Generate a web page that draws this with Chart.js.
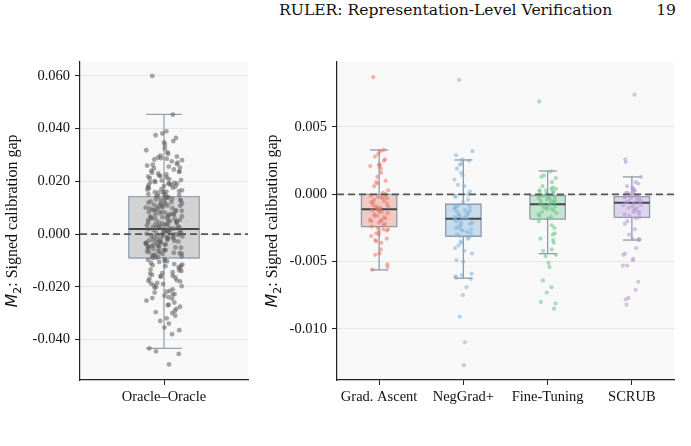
<!DOCTYPE html>
<html>
<head>
<meta charset="utf-8">
<script src="https://cdn.jsdelivr.net/npm/chart.js@4.4.1/dist/chart.umd.min.js"></script>
<style>
  body { margin: 0; width: 691px; height: 446px; background: #fff; position: relative; overflow: hidden; }
  #hdr { position: absolute; left: 279px; top: 1px; font: 15.6px "DejaVu Serif", serif; color: #111; white-space: nowrap; }
  #pg { position: absolute; right: 15px; top: 1px; font: 15.6px "DejaVu Serif", serif; color: #111; }
  #c1 { position: absolute; left: 0; top: 0; }
  #c2 { position: absolute; left: 260px; top: 0; }
</style>
</head>
<body>
<div id="hdr">RULER: Representation-Level Verification</div>
<div id="pg">19</div>
<canvas id="c1" width="260" height="446"></canvas>
<canvas id="c2" width="431" height="446"></canvas>
<script>
// ---- data ----
const oracleCategories = ['Oracle–Oracle'];
const oracleQ1 = [-0.0091];
const oracleMedian = [0.0019];
const oracleQ3 = [0.0142];
const oracleWhiskerLow = [-0.0434];
const oracleWhiskerHigh = [0.0454];
const oracleTicks = [0.06, 0.04, 0.02, 0, -0.02, -0.04];

// per-run gaps, in units of 1e-3
const oracleGap = [
  60.0, 45.3, 39.0, 38.2, 37.5, 36.5, 35.3, 34.8, 33.9, 32.5, 31.8, 31.0, 30.5, 29.8, 29.4, 29.0,
  28.8, 28.3, 28.0, 27.6, 27.1, 26.5, 26.0, 25.6, 25.2, 24.9, 24.5, 24.0, 23.7, 23.3, 23.0, 22.6,
  22.2, 22.0, 21.5, 21.2, 20.8, 20.5, 20.1, 19.8, 19.4, 19.1, 18.9, 18.5, 18.2, 18.0, 17.6, 17.3,
  17.0, 16.6, 16.3, 16.0, 15.7, 15.4, 15.1, 14.8, 14.5, 14.3, 14.0, 13.8, 13.5, 13.2, 13.0, 12.7,
  12.4, 12.1, 11.9, 11.6, 11.3, 11.0, 10.8, 10.5, 10.2, 10.0, 9.8, 9.5, 9.3, 9.0, 8.8, 8.6, 8.3,
  8.1, 7.9, 7.6, 7.4, 7.1, 6.9, 6.6, 6.4, 6.1, 5.9, 5.6, 5.4, 5.2, 4.9, 4.7, 4.5, 4.2, 4.0, 3.8,
  3.6, 3.3, 3.1, 2.9, 2.7, 2.5, 2.3, 2.1, 1.9, 1.7, 1.5, 1.3, 1.1, 0.9, 0.7, 0.5, 0.3, 0.1, -0.1,
  -0.3, -0.5, -0.7, -0.9, -1.1, -1.3, -1.5, -1.7, -1.9, -2.1, -2.3, -2.5, -2.7, -2.9, -3.1, -3.3,
  -3.5, -3.7, -3.9, -4.1, -4.3, -4.5, -4.7, -5.0, -5.2, -5.5, -5.7, -6.0, -6.2, -6.5, -6.8, -7.0,
  -7.3, -7.6, -7.9, -8.2, -8.5, -8.8, -9.1, -9.5, -9.8, -10.2, -10.6, -11.0, -11.4, -11.8, -12.2,
  -12.6, -13.0, -13.5, -14.0, -14.5, -15.0, -15.5, -16.0, -16.5, -17.0, -17.5, -18.0, -18.5, -19.0,
  -19.5, -20.0, -20.5, -21.0, -21.6, -22.2, -22.8, -23.4, -24.0, -24.6, -25.3, -26.0, -26.8, -27.6,
  -28.4, -29.2, -30.0, -31.0, -32.0, -33.0, -34.0, -35.5, -36.5, -38.0, -43.4, -44.5, -45.5, -49.5,
  23.6, 21.8, 19.6, 17.8, 16.9, 15.9, 14.9, 13.9, 12.9, 11.7, 10.7, 9.7, 8.7, 7.7, 6.7, 5.8, 4.8,
  3.9, 2.8, 1.8, 0.8, -0.2, -1.2, -2.2, -3.2, -4.2, -5.1, -6.1, -7.1, -8.0, -8.9, -10.4, -12.0,
  -13.8, -15.8, -17.8, -19.8, -21.9, -24.3, 13.4, 11.2, 9.1, 7.2, 5.3, 3.4, 1.6, 0.0, -1.6, -3.4,
  -5.3, -7.4, 28.6, 26.3, 20.3, 18.7, -16.2, -18.8, -23.0, -27.0, -29.6, 12.2, 10.4, 8.4, 6.3,
  4.4, 2.4, 0.4, -0.6, -2.6, -4.6, -6.6, 16.1, 19.3, -11.6, -14.8
];

const methodCategories = ['Grad. Ascent', 'NegGrad+', 'Fine-Tuning', 'SCRUB'];
const methodQ1 = [-0.00241, -0.00312, -0.00184, -0.00171];
const methodMedian = [-0.00111, -0.00181, -0.00074, -0.00062];
const methodQ3 = [0.00000, -0.00074, -0.00010, -0.00018];
const methodWhiskerLow = [-0.00562, -0.00624, -0.00441, -0.00340];
const methodWhiskerHigh = [0.00329, 0.00255, 0.00173, 0.00129];
const methodTicks = [0.005, 0, -0.005, -0.01];

const gradAscentGap = [
  8.7, 3.3, 3.2, 3.0, 2.8, 2.6, 2.5, 2.2, 2.2, 2.1, 2.1, 1.9, 1.6, 1.3, 1.0, 0.9, 0.8, 0.6, 0.3, 0.1,
  0.0, -0.1, -0.1, -0.2, -0.3, -0.4, -0.5, -0.6, -0.7, -0.8, -0.9, -1.0, -1.0, -1.1, -1.1, -1.2, -1.3,
  -1.4, -1.5, -1.6, -1.7, -1.8, -1.9, -2.0, -2.1, -2.2, -2.3, -2.4, -2.5, -2.6, -2.7, -2.8, -2.9, -3.0,
  -3.1, -3.3, -3.4, -3.5, -3.6, -4.1, -4.4, -4.5, -5.2, -5.4, -5.6, -0.3, -0.6, -0.9, -1.3, -1.6, -2.0,
  -0.2, -1.2, -1.9, -2.6
];
const negGradGap = [
  8.5, 3.2, 2.9, 2.6, 2.5, 2.3, 2.2, 1.9, 1.6, 1.4, 1.1, 0.7, 0.6, 0.2, 0.0, -0.1, -0.2, -0.4, -0.6,
  -0.8, -0.9, -1.0, -1.1, -1.2, -1.3, -1.4, -1.5, -1.6, -1.7, -1.8, -1.8, -1.9, -2.0, -2.1, -2.2, -2.3,
  -2.4, -2.5, -2.6, -2.7, -2.8, -2.9, -3.0, -3.1, -3.2, -3.3, -3.5, -3.6, -3.8, -4.0, -4.2, -4.4, -4.9,
  -5.0, -5.9, -6.0, -6.1, -6.2, -6.3, -6.9, -7.5, -9.1, -11.0, -12.7, -0.9, -1.2, -1.5, -1.7, -2.1, -2.6
];
const fineTuningGap = [
  6.9, 1.7, 1.4, 1.3, 1.2, 0.9, 0.6, 0.5, 0.4, 0.3, 0.3, 0.2, 0.1, 0.0, 0.0, -0.1, -0.2, -0.2, -0.3,
  -0.4, -0.5, -0.5, -0.6, -0.7, -0.7, -0.8, -0.9, -1.0, -1.0, -1.1, -1.2, -1.3, -1.4, -1.5, -1.6, -1.7,
  -1.8, -2.0, -2.3, -2.5, -2.9, -3.0, -3.3, -3.4, -3.6, -4.1, -4.2, -4.5, -4.6, -5.1, -5.4, -6.4, -6.9,
  -7.3, -8.0, -8.1, -8.5, 0.2, -0.1, -0.4, -0.6, -0.8, -1.1, 0.4, -0.3
];
const scrubGap = [
  7.4, 2.6, 2.4, 1.3, 0.9, 0.8, 0.6, 0.4, 0.3, 0.3, 0.2, 0.1, 0.0, 0.0, -0.1, -0.2, -0.3, -0.3, -0.4,
  -0.5, -0.6, -0.6, -0.7, -0.8, -0.9, -1.0, -1.1, -1.2, -1.3, -1.4, -1.5, -1.6, -1.7, -1.8, -2.0, -2.2,
  -2.6, -3.0, -3.3, -3.35, -3.35, -3.4, -4.0, -4.4, -4.5, -4.8, -4.9, -5.3, -5.3, -6.5, -7.1, -7.7,
  -7.8, -8.2, 0.5, 0.1, -0.2, -0.5, -0.8, -1.0, -1.3
];

// ---- drawing helpers ----
const BOX_HALF = 0.21;
const CAP_HALF = 0.107;
const JITTER = 0.11;

function jitter(k) {
  const s = Math.sin(k * 12.9898 + 78.233) * 43758.5453;
  return s - Math.floor(s) - 0.5;
}

const plotBg = {
  id: 'plotBg',
  beforeDraw(chart) {
    const a = chart.chartArea, c = chart.ctx;
    c.save();
    c.fillStyle = '#f8f8f8';
    c.fillRect(a.left, a.top, a.right - a.left, a.bottom - a.top);
    c.restore();
  }
};

// y title: italic M with subscript 2, then serif text
const yTitle = {
  id: 'yTitle',
  afterDraw(chart, args, o) {
    const a = chart.chartArea, c = chart.ctx;
    const parts = [
      { t: 'M', f: 'oblique 16px "DejaVu Sans"', dy: 0 },
      { t: '2', f: '11px "DejaVu Sans"', dy: 3.5 },
      { t: ': Signed calibration gap', f: '16px "Liberation Serif"', dy: 0 }
    ];
    c.save();
    let total = 0;
    parts.forEach(p => { c.font = p.f; p.w = c.measureText(p.t).width; total += p.w; });
    c.translate(o.x, (a.top + a.bottom) / 2);
    c.rotate(-Math.PI / 2);
    c.fillStyle = '#111';
    c.textBaseline = 'alphabetic';
    let x = -total / 2;
    parts.forEach(p => { c.font = p.f; c.fillText(p.t, x, p.dy); x += p.w; });
    c.restore();
  }
};

function makeBoxChart(canvas, cats, q1, med, q3, lo, hi, gaps, pointColors, boxFills, edge, yMin, yMax, yTicks, yWidth, padRight, pointR) {
  const datasets = [];
  const xMin = -0.5, xMax = cats.length - 0.5;

  // zero reference line
  datasets.push({
    type: 'line', data: [{ x: xMin, y: 0 }, { x: xMax, y: 0 }],
    borderColor: '#555', borderWidth: 1.8, borderDash: [7, 4], pointRadius: 0, order: 0
  });

  cats.forEach((cat, i) => {
    datasets.push({
      type: 'scatter',
      data: gaps[i].map((v, k) => ({ x: i + jitter(k + i * 1000) * 2 * JITTER, y: v / 1000 })),
      backgroundColor: pointColors[i], borderWidth: 0, pointRadius: pointR, order: 1
    });
    datasets.push({
      type: 'line', data: [{ x: i - BOX_HALF, y: med[i] }, { x: i + BOX_HALF, y: med[i] }],
      borderColor: '#444', borderWidth: 2, pointRadius: 0, order: 2
    });
    const whisk = [
      [{ x: i, y: q3[i] }, { x: i, y: hi[i] }],
      [{ x: i, y: q1[i] }, { x: i, y: lo[i] }],
      [{ x: i - CAP_HALF, y: hi[i] }, { x: i + CAP_HALF, y: hi[i] }],
      [{ x: i - CAP_HALF, y: lo[i] }, { x: i + CAP_HALF, y: lo[i] }]
    ];
    whisk.forEach(seg => datasets.push({
      type: 'line', data: seg, borderColor: edge, borderWidth: 1.3, pointRadius: 0, order: 3
    }));
    datasets.push({
      type: 'line',
      data: [
        { x: i - BOX_HALF, y: q1[i] }, { x: i + BOX_HALF, y: q1[i] },
        { x: i + BOX_HALF, y: q3[i] }, { x: i - BOX_HALF, y: q3[i] }, { x: i - BOX_HALF, y: q1[i] }
      ],
      borderColor: edge, borderWidth: 1.3, backgroundColor: boxFills[i], fill: 'shape',
      pointRadius: 0, tension: 0, order: 4
    });
  });

  return new Chart(canvas, {
    type: 'scatter',
    data: { datasets },
    options: {
      responsive: false,
      animation: false,
      layout: { padding: { top: 62, right: padRight, left: 0, bottom: 0 } },
      plugins: { legend: { display: false }, tooltip: { enabled: false }, yTitle: { x: 17 } },
      scales: {
        x: {
          type: 'linear', min: xMin, max: xMax,
          afterBuildTicks: s => { s.ticks = cats.map((c, i) => ({ value: i })); },
          afterFit: s => { s.height = 66; },
          ticks: {
            callback: v => cats[v], color: '#111', padding: 3, maxRotation: 0, autoSkip: false,
            font: { family: 'Liberation Serif', size: 14.5 }
          },
          grid: { drawOnChartArea: false, tickColor: '#222', tickLength: 5, tickWidth: 1 },
          border: { color: '#222', width: 1.2 }
        },
        y: {
          type: 'linear', min: yMin, max: yMax,
          afterBuildTicks: s => { s.ticks = yTicks.map(v => ({ value: v })); },
          afterFit: s => { s.width = yWidth; },
          ticks: {
            callback: v => v.toFixed(3), color: '#111', padding: 5,
            font: { family: 'Liberation Serif', size: 14.5 }
          },
          grid: { color: '#e6e6e6', lineWidth: 1, tickColor: '#222', tickLength: 5 },
          border: { color: '#222', width: 1.2 }
        }
      }
    },
    plugins: [plotBg, yTitle]
  });
}

makeBoxChart(
  document.getElementById('c1'), oracleCategories,
  oracleQ1, oracleMedian, oracleQ3, oracleWhiskerLow, oracleWhiskerHigh,
  [oracleGap], ['rgba(95,95,95,0.55)'], ['#d2d2d2'], '#93a5b6',
  -0.0554, 0.0653, oracleTicks, 80, 12, 2.4
);

makeBoxChart(
  document.getElementById('c2'), methodCategories,
  methodQ1, methodMedian, methodQ3, methodWhiskerLow, methodWhiskerHigh,
  [gradAscentGap, negGradGap, fineTuningGap, scrubGap],
  ['rgba(232,118,106,0.55)', 'rgba(126,178,220,0.55)', 'rgba(104,196,136,0.55)', 'rgba(180,152,212,0.55)'],
  ['#efcac5', '#c6dbec', '#c5e4cf', '#ddd3ec'], '#8d9aa8',
  -0.0138, 0.00983, methodTicks, 77, 17, 2.1
);
</script>
</body>
</html>
